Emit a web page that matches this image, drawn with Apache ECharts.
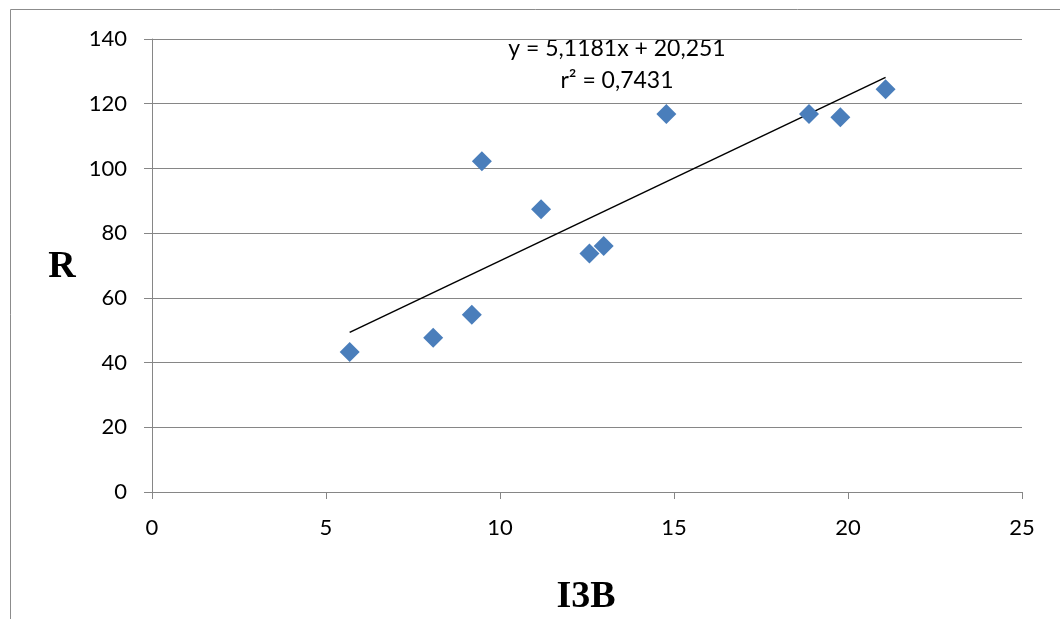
<!DOCTYPE html>
<html>
<head>
<meta charset="utf-8">
<script src="https://cdn.jsdelivr.net/npm/echarts@6/dist/echarts.min.js"></script>
<style>html,body{margin:0;padding:0;background:#fff}#c{width:1060px;height:619px}</style>
</head>
<body>
<div id="c"></div>
<script>
// Data
var i3b = [5.68, 8.08, 9.19, 9.48, 11.18, 12.57, 12.98, 14.78, 18.88, 19.78, 21.08];
var rVals = [43.3, 47.7, 54.8, 102.2, 87.4, 73.7, 76.0, 116.8, 116.8, 115.8, 124.5];
var trendSlope = 5.1181;
var trendIntercept = 20.251;
var equationLines = ['y = 5,1181x + 20,251', 'r² = 0,7431'];
var xTicks = [0, 5, 10, 15, 20, 25];
var yTicks = [0, 20, 40, 60, 80, 100, 120, 140];
var xTitle = 'I3B';
var yTitle = 'R';

var points = i3b.map(function (x, i) { return [x, rVals[i]]; });
var xMin = Math.min.apply(null, i3b), xMax = Math.max.apply(null, i3b);
var trend = [[xMin, trendSlope * xMin + trendIntercept], [xMax, trendSlope * xMax + trendIntercept]];

var chart = echarts.init(document.getElementById('c'), null, {renderer: 'canvas'});
var gridCol = '#868686';
chart.setOption({
  animation: false,
  backgroundColor: '#ffffff',
  grid: {left: 152, top: 39, right: 38, bottom: 127, containLabel: false},
  xAxis: {
    type: 'value', min: xTicks[0], max: xTicks[xTicks.length - 1], interval: 5,
    axisLine: {show: true, lineStyle: {color: gridCol, width: 1}},
    axisTick: {show: true, inside: false, length: 7, lineStyle: {color: gridCol}},
    splitLine: {show: false},
    axisLabel: {color: '#000', fontFamily: 'Lato', fontSize: 22, margin: 25}
  },
  yAxis: {
    type: 'value', min: yTicks[0], max: yTicks[yTicks.length - 1], interval: 20,
    axisLine: {show: true, lineStyle: {color: gridCol, width: 1}},
    axisTick: {show: true, inside: false, length: 8, lineStyle: {color: gridCol}},
    splitLine: {show: true, lineStyle: {color: gridCol, width: 1}},
    axisLabel: {color: '#000', fontFamily: 'Lato', fontSize: 22, margin: 25}
  },
  series: [
    {
      type: 'line', data: trend, symbol: 'none', silent: true,
      lineStyle: {color: '#000', width: 1.5}, z: 3
    },
    {
      type: 'scatter', data: points, symbol: 'diamond', symbolSize: 20,
      itemStyle: {color: '#4A7EBB', opacity: 1}, z: 4
    }
  ],
  graphic: [
    {type: 'polyline', shape: {points: [[10.5, 619], [10.5, 9.5], [1060, 9.5]]},
      style: {stroke: '#8c8c8c', lineWidth: 1, fill: null}},
    {type: 'text', x: 617, y: 49, style: {text: equationLines[0], font: '23px Lato', fill: '#000', textAlign: 'center', textVerticalAlign: 'middle'}},
    {type: 'text', x: 617, y: 81, style: {text: equationLines[1], font: '23px Lato', fill: '#000', textAlign: 'center', textVerticalAlign: 'middle'}},
    {type: 'text', x: 62, y: 267, style: {text: yTitle, font: 'bold 38px "Liberation Serif"', fill: '#000', textAlign: 'center', textVerticalAlign: 'middle'}},
    {type: 'text', x: 586, y: 597, style: {text: xTitle, font: 'bold 38px "Liberation Serif"', fill: '#000', textAlign: 'center', textVerticalAlign: 'middle'}}
  ]
});
</script>
</body>
</html>
